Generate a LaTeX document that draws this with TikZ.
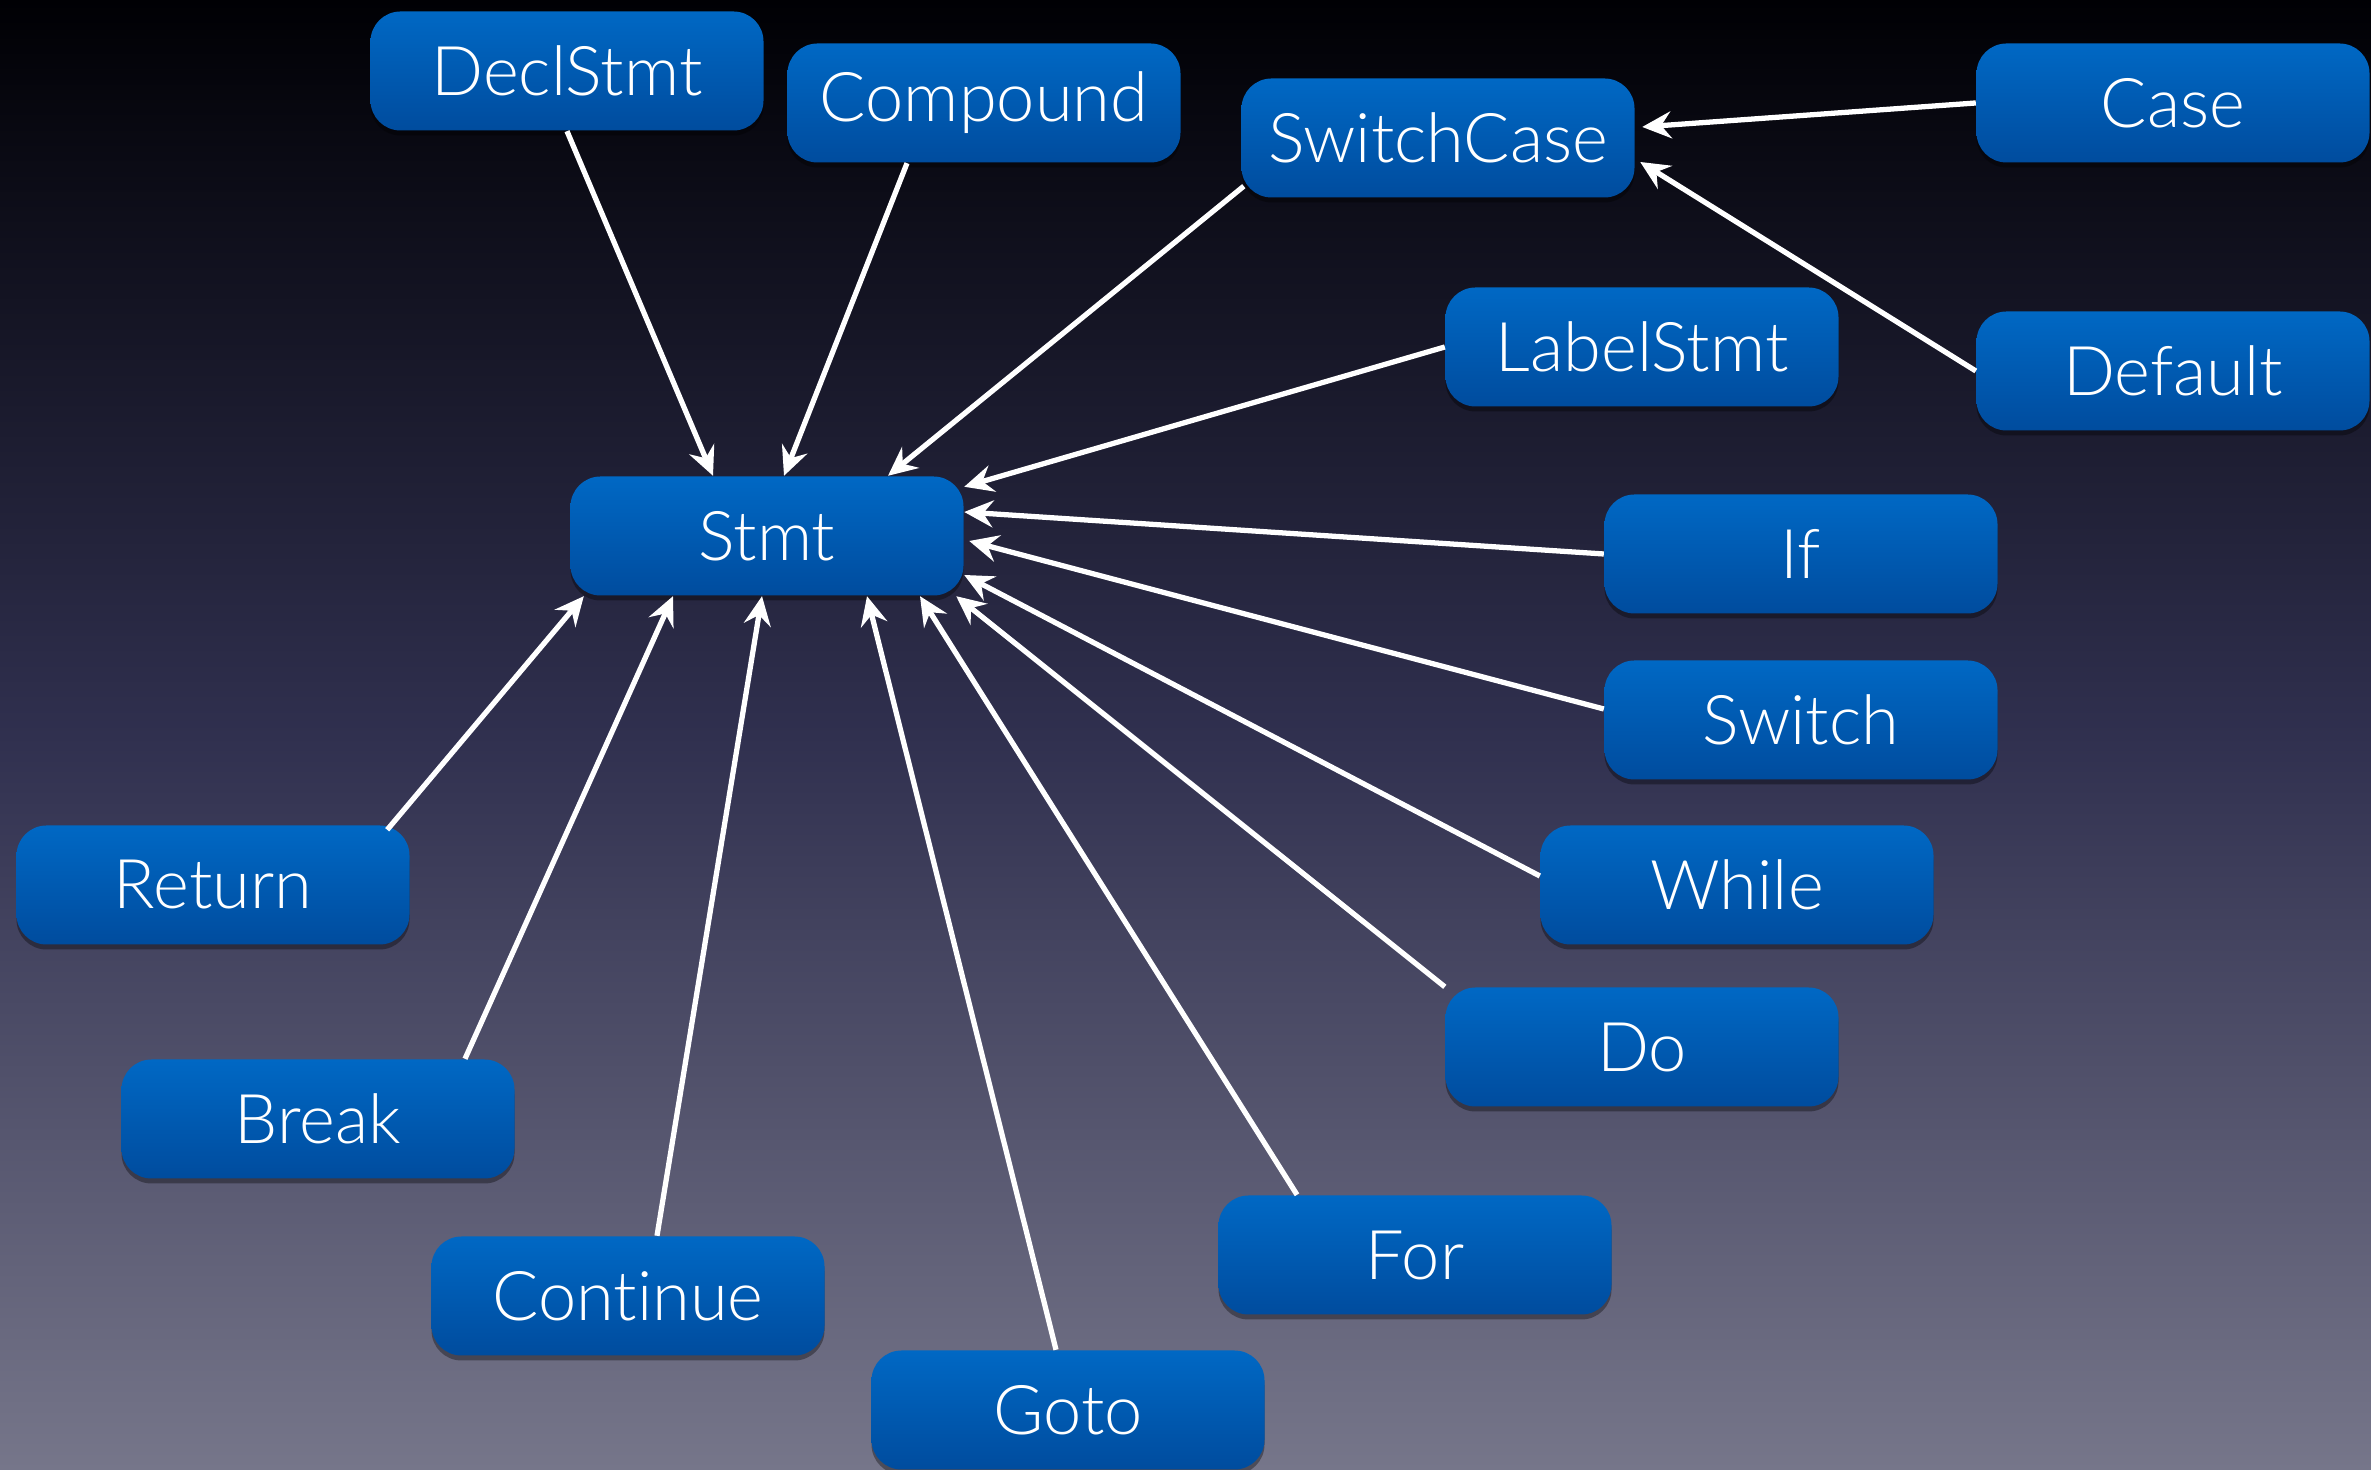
\documentclass[tikz,border=0pt]{standalone}
\usepackage{fontspec}
\setmainfont{Lato}[UprightFont={* Light}, Ligatures={NoCommon,NoContextual}]
\usepackage{tikz}
\usetikzlibrary{arrows.meta,shadows}
\definecolor{bgtop}{HTML}{000004}
\definecolor{bgup}{HTML}{040A35}
\definecolor{bgmid}{HTML}{30304F}
\definecolor{bglow}{HTML}{5E5E72}
\definecolor{bgbot}{HTML}{76768A}
\definecolor{boxtop}{HTML}{0068C4}
\definecolor{boxbot}{HTML}{004C9E}

\begin{document}
\begin{tikzpicture}
	[stmtbox/.style={rounded corners=0.3cm, minimum width=3.93cm, minimum height=1.19cm,
	   inner sep=0pt, top color=boxtop, bottom color=boxbot, text=white,
	   font=\fontsize{19.5}{21}\selectfont,
	   drop shadow={shadow xshift=0pt, shadow yshift=-0.5mm, opacity=0.35, fill=black}},
	 link/.style={draw=white, line width=1.5pt, -{Stealth[length=2.9mm,width=2.7mm,inset=1mm]}}]
% background
\useasboundingbox (0,0) rectangle (23.71,14.70);
\shade[top color=bgtop, middle color=bgup, bottom color=bgmid] (0,7.35) rectangle (23.71,14.70);
\shade[top color=bgmid, middle color=bglow, bottom color=bgbot] (0,0) rectangle (23.71,7.35);
% boxes
\foreach \name/\pos/\txt in {decl/{5.67,13.99}/DeclStmt, comp/{9.84,13.67}/Compound,
	swcase/{14.38,13.32}/SwitchCase, case/{21.73,13.67}/Case, default/{21.73,10.99}/Default,
	label/{16.42,11.23}/LabelStmt, stmt/{7.67,9.34}/Stmt, if/{18.01,9.16}/If,
	switch/{18.01,7.50}/Switch, while/{17.37,5.85}/While, do/{16.42,4.23}/Do,
	for/{14.15,2.15}/For, goto/{10.68,0.60}/Goto, cont/{6.28,1.74}/Continue,
	brk/{3.18,3.51}/Break, ret/{2.13,5.85}/Return}
\node[stmtbox] (\name) at (\pos) {\txt};
% arrows
\draw[link] (decl.south) -- ([xshift=-0.54cm]stmt.north);
\draw[link] ([xshift=-0.77cm]comp.south) -- ([xshift=0.17cm]stmt.north);
\draw[link] ([shift={(0.03,0.12)}]swcase.south west) -- ([xshift=1.21cm]stmt.north);
\draw[link] (case.west) -- ([shift={(0.07,0.11)}]swcase.east);
\draw[link] (default.west) -- ([shift={(0.05,-0.24)}]swcase.east);
\draw[link] (label.west) -- ([yshift=-0.11cm]stmt.north east);
\draw[link] (if.west) -- ([yshift=0.24cm]stmt.east);
\draw[link] ([yshift=0.11cm]switch.west) -- ([shift={(0.05,-0.05)}]stmt.east);
\draw[link] ([yshift=0.09cm]while.west) -- ([yshift=-0.39cm]stmt.east);
\draw[link] (do.north west) -- ([xshift=-0.08cm]stmt.south east);
\draw[link] ([xshift=-1.18cm]for.north) -- ([xshift=1.53cm]stmt.south);
\draw[link] ([xshift=-0.12cm]goto.north) -- ([xshift=1.0cm]stmt.south);
\draw[link] ([xshift=0.29cm]cont.north) -- ([xshift=-0.05cm]stmt.south);
\draw[link] ([xshift=1.47cm]brk.north) -- ([xshift=-0.94cm]stmt.south);
\draw[link] ([shift={(-0.23,-0.05)}]ret.north east) -- ([xshift=0.14cm]stmt.south west);
\end{tikzpicture}
\end{document}
